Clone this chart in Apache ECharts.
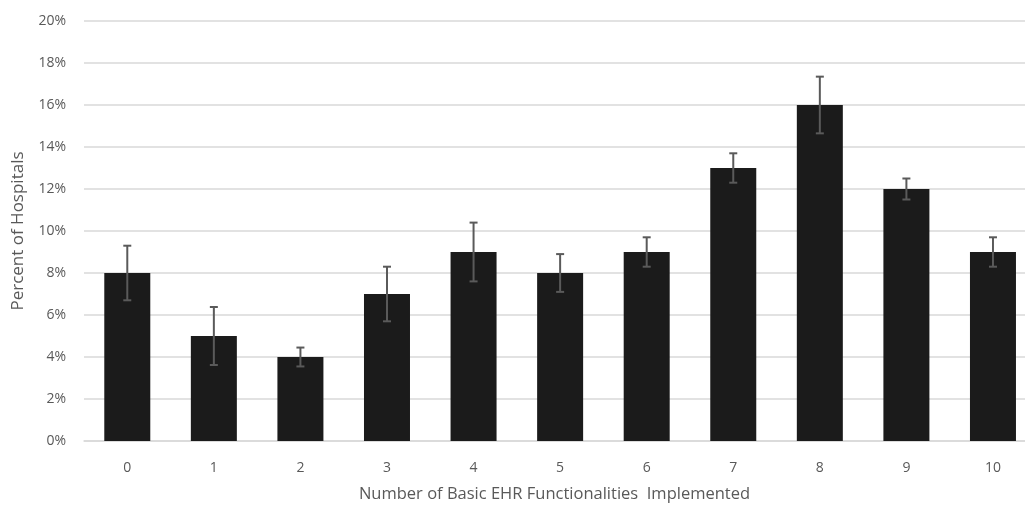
<!DOCTYPE html>
<html>
<head>
<meta charset="utf-8">
<script src="https://cdn.jsdelivr.net/npm/echarts@6/dist/echarts.min.js"></script>
<style>
  html, body { margin: 0; padding: 0; background: #ffffff; }
  #chart { width: 1025px; height: 508px; }
</style>
</head>
<body>
<div id="chart"></div>
<script>
const categories = ['0', '1', '2', '3', '4', '5', '6', '7', '8', '9', '10'];
const percentValues = [8, 5, 4, 7, 9, 8, 9, 13, 16, 12, 9];
const errorHalfWidths = [1.3, 1.38, 0.45, 1.3, 1.4, 0.9, 0.7, 0.7, 1.35, 0.5, 0.7];
const yTicks = [0, 2, 4, 6, 8, 10, 12, 14, 16, 18, 20];

const FONT = "'Open Sans', 'Noto Sans', sans-serif";
const TEXT_COLOR = '#595959';

// categories placed at positions 0..10 on a continuous axis; the right edge of the
// original plot is cut off by the picture frame, so the axis ends before 10.5
const catPositions = categories.map((c, i) => i);
const barData = categories.map((c, i) => [i, percentValues[i]]);
const errorData = categories.map((c, i) => [i, percentValues[i] - errorHalfWidths[i], percentValues[i] + errorHalfWidths[i]]);

const chart = echarts.init(document.getElementById('chart'), null, { renderer: 'canvas' });
chart.setOption({
  animation: false,
  backgroundColor: '#ffffff',
  grid: { left: 84, right: 0, top: 21, bottom: 65, containLabel: false },
  xAxis: {
    type: 'value',
    min: -0.5,
    max: 10.37,
    axisTick: { show: false },
    splitLine: { show: false },
    axisLine: { show: true, lineStyle: { color: '#d9d9d9', width: 1.5 } },
    axisLabel: {
      color: TEXT_COLOR, fontFamily: FONT, fontSize: 14, margin: 20,
      customValues: catPositions,
      formatter: v => categories[Math.round(v)],
      showMinLabel: true, showMaxLabel: true
    },
    name: 'Number of Basic EHR Functionalities  Implemented',
    nameLocation: 'middle',
    nameGap: 45,
    nameTextStyle: { color: TEXT_COLOR, fontFamily: FONT, fontSize: 16.5 }
  },
  yAxis: {
    type: 'value',
    min: yTicks[0],
    max: yTicks[yTicks.length - 1],
    interval: 2,
    axisLine: { show: false },
    axisTick: { show: false },
    splitLine: { show: true, lineStyle: { color: '#d9d9d9', width: 1.5 } },
    axisLabel: { color: TEXT_COLOR, fontFamily: FONT, fontSize: 14, margin: 18, formatter: v => v + '%' },
    name: 'Percent of Hospitals',
    nameLocation: 'middle',
    nameGap: 57,
    nameRotate: 90,
    nameTextStyle: { color: TEXT_COLOR, fontFamily: FONT, fontSize: 17 }
  },
  series: [
    {
      type: 'bar',
      data: barData,
      barWidth: 46,
      itemStyle: { color: '#1b1b1b' },
      z: 2
    },
    {
      type: 'custom',
      data: errorData,
      z: 5,
      renderItem: function (params, api) {
        const x = api.value(0);
        const lo = api.coord([x, api.value(1)]);
        const hi = api.coord([x, api.value(2)]);
        const cap = 4;
        const style = { stroke: '#5a5a5a', lineWidth: 2 };
        return {
          type: 'group',
          children: [
            { type: 'line', shape: { x1: hi[0], y1: hi[1], x2: lo[0], y2: lo[1] }, style },
            { type: 'line', shape: { x1: hi[0] - cap, y1: hi[1], x2: hi[0] + cap, y2: hi[1] }, style },
            { type: 'line', shape: { x1: lo[0] - cap, y1: lo[1], x2: lo[0] + cap, y2: lo[1] }, style }
          ]
        };
      }
    }
  ]
});
</script>
</body>
</html>
